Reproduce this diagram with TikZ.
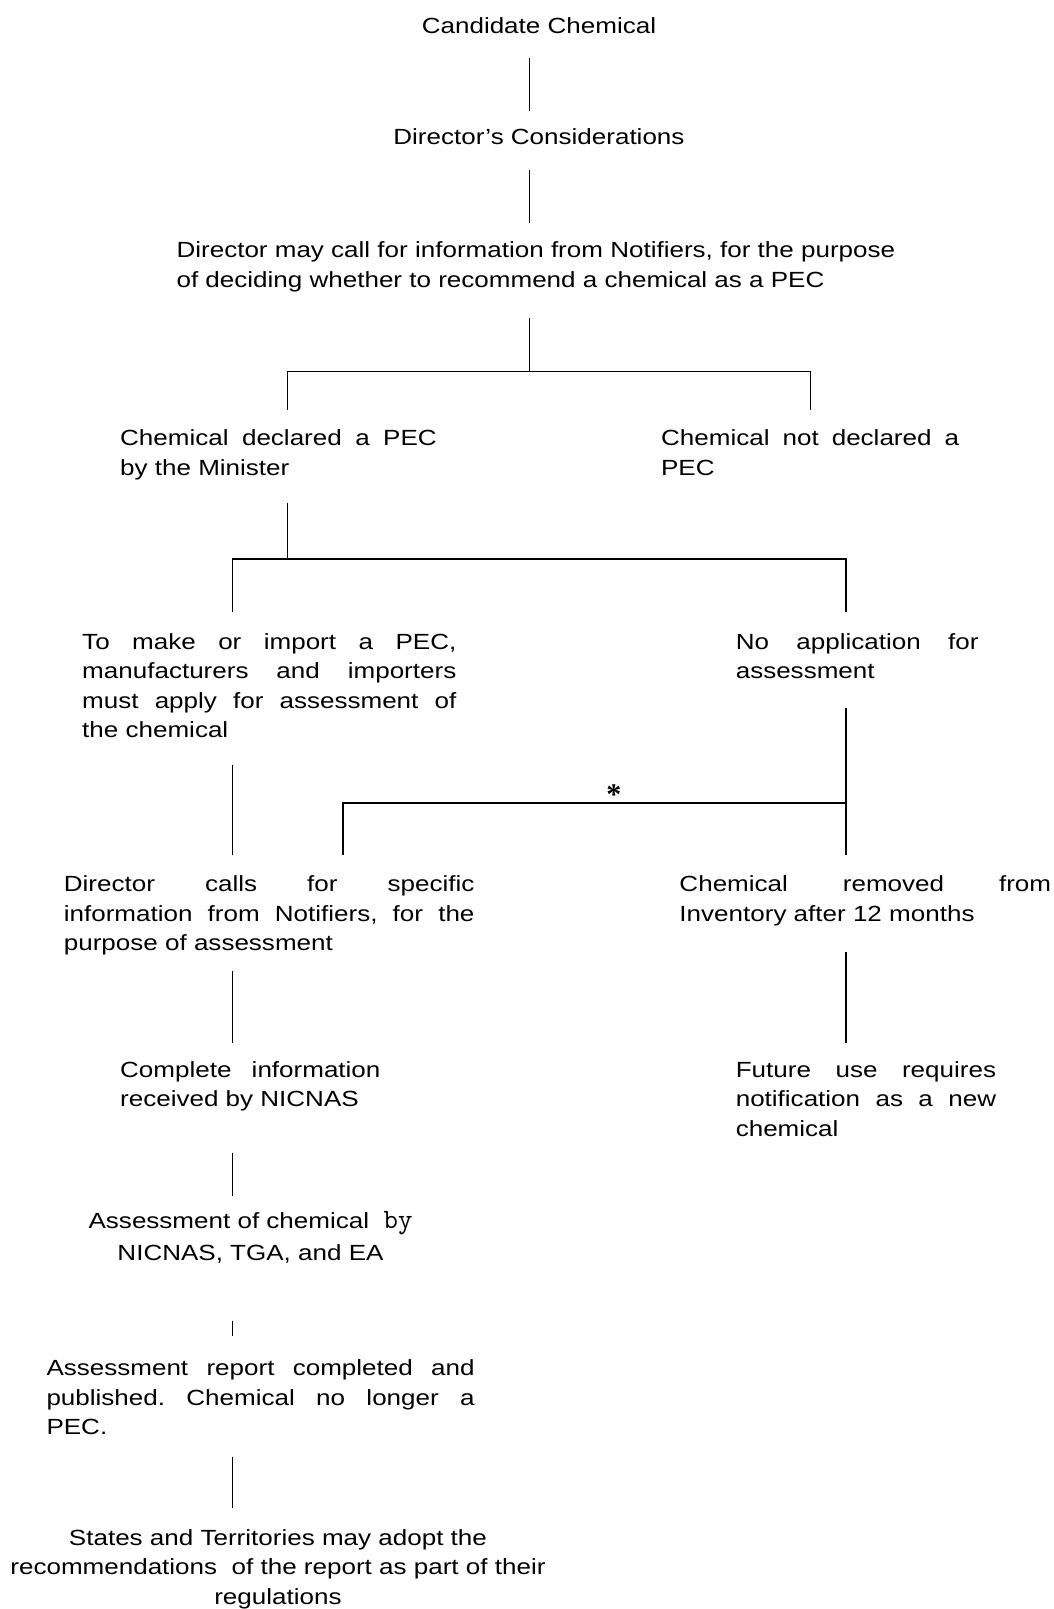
\documentclass[tikz,border=0pt]{standalone}
\usepackage{fontspec}
\setmainfont{Liberation Sans}[FakeStretch=1.185]
\newfontfamily\starfont{Liberation Serif}
\usetikzlibrary{positioning}
\tolerance=10000
\hbadness=10000
\frenchspacing
\setlength{\parindent}{0pt}

\begin{document}
\begin{tikzpicture}[
        x=0.5pt, y=-0.5pt,
        txt/.style={inner sep=0pt, font=\fontsize{11pt}{14.8pt}\selectfont},
        block/.style={txt, anchor=north west, align=justify},
        link/.style={draw, line width=0.7pt},
        asterisk/.style={inner sep=0pt, anchor=north, font=\starfont\bfseries\fontsize{15pt}{15pt}\selectfont}
    ]
        \fill[white] (0,0) rectangle (1056,1609);

        % Nodes
        \node[txt, anchor=north] (cand) at (540,17) {Candidate Chemical};
        \node[txt, anchor=north] (cons) at (540,128) {Director's Considerations};
        \node[txt, anchor=north west, align=left] (call) at (176.5,242)
            {Director may call for information from Notifiers, for the purpose\\
             of deciding whether to recommend a chemical as a PEC};
        \node[block, text width=158.6pt] (decl) at (120,430)
            {Chemical declared a PEC\linebreak by the Minister};
        \node[block, text width=149.3pt] (notdecl) at (662,430)
            {Chemical not declared a\linebreak PEC};
        \node[block, text width=187.4pt] (apply) at (82,634)
            {To make or import a PEC,\linebreak manufacturers and importers\linebreak
             must apply for assessment of\linebreak the chemical};
        \node[block, text width=121.6pt] (noapp) at (736.8,634)
            {No application for\linebreak assessment};
        \node[block, text width=205.7pt] (spec) at (63.6,877)
            {Director calls for specific\linebreak information from Notifiers, for the\linebreak
             purpose of assessment};
        \node[block, text width=186.2pt] (removed) at (680.4,877)
            {Chemical removed from\linebreak Inventory after 12 months};
        \node[block, text width=130.4pt] (complete) at (120,1063)
            {Complete information\linebreak received by NICNAS};
        \node[block, text width=130.4pt] (future) at (736.8,1063)
            {Future use requires\linebreak notification as a new\linebreak chemical};
        \node[txt, anchor=north, align=center] (assess) at (251,1213)
            {Assessment of chemical\ \ {\ttfamily\addfontfeatures{FakeStretch=1.2}\fontsize{14pt}{14.8pt}\selectfont by}\\[1.2pt]
             NICNAS, TGA, and EA};
        \node[block, text width=214.5pt] (report) at (46.2,1362)
            {Assessment report completed and\linebreak published. Chemical no longer a\linebreak PEC.};
        \node[txt, anchor=north, align=center] (states) at (278.5,1532)
            {States and Territories may adopt the\\
             recommendations\ \ of the report as part of their\\
             regulations};

        % Junctions
        \coordinate (xmid) at (530.5,0);
        \coordinate (xleft) at (233,0);
        \coordinate (xright) at (847.6,0);
        \coordinate (fork1) at (530.5,372);
        \coordinate (fork1l) at (288,372);
        \coordinate (fork1r) at (812,372);
        \coordinate (fork2) at (288,560);
        \coordinate (fork2l) at (233,560);
        \coordinate (fork2r) at (847.6,560);
        \coordinate (fork3) at (847.6,804.5);
        \coordinate (fork3l) at (343.8,804.5);

        % Edges
        \draw[link, shorten <=12.2pt, shorten >=8.2pt] (cand.south -| xmid) -- (cons.north -| xmid);
        \draw[link, shorten <=12.5pt, shorten >=9.3pt] (cons.south -| xmid) -- (call.north -| xmid);
        \draw[link, shorten <=12.9pt] (call.south -| fork1) -- (fork1);
        \draw[link, shorten <=9.5pt, shorten >=9.5pt] (decl.north -| fork1l) -- (fork1l) -- (fork1r) -- (notdecl.north -| fork1r);
        \draw[link, shorten <=11.6pt] (decl.south -| fork2) -- (fork2);
        \draw[link, shorten <=10.5pt, shorten >=10.5pt] (apply.north -| fork2l) -- (fork2l) -- (fork2r) -- (noapp.north -| fork2r);
        \draw[link, shorten <=14.2pt, shorten >=10pt] (noapp.south -| xright) -- (removed.north -| xright);
        \draw[link, shorten >=10pt] (fork3) -- (fork3l) -- (spec.north -| fork3l);
        \node[asterisk] (star) at (615,786) {*};
        \draw[link, shorten <=13.35pt, shorten >=10pt] (apply.south -| xleft) -- (spec.north -| xleft);
        \draw[link, shorten <=12.9pt, shorten >=9.15pt] (removed.south -| xright) -- (future.north -| xright);
        \draw[link, shorten <=7.6pt, shorten >=9.15pt] (spec.south -| xleft) -- (complete.north -| xleft);
        \draw[link, shorten <=20.6pt, shorten >=7.5pt] (complete.south -| xleft) -- (assess.north -| xleft);
        \draw[link, shorten <=29pt, shorten >=11.5pt] (assess.south -| xleft) -- (report.north -| xleft);
        \draw[link, shorten <=10.6pt, shorten >=10.5pt] (report.south -| xleft) -- (states.north -| xleft);
    \end{tikzpicture}
\end{document}
